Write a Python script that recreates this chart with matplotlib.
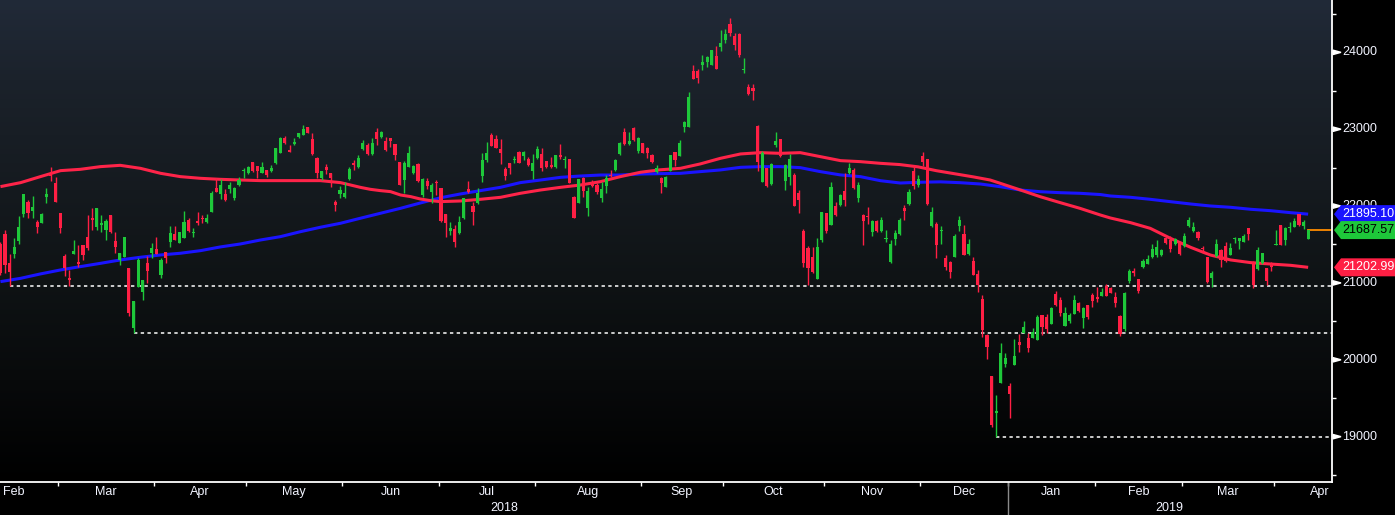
import numpy as np
import pandas as pd
import matplotlib
matplotlib.use("Agg")
import matplotlib.pyplot as plt
from matplotlib.patches import Polygon
from matplotlib import font_manager

# ---------------- data ----------------
start_date = "2018-02-09"
jp_holidays = ["2018-02-12", "2018-03-21", "2018-04-30", "2018-05-03", "2018-05-04",
               "2018-07-16", "2018-09-17", "2018-09-24", "2018-10-08", "2018-11-23",
               "2018-12-24", "2018-12-31", "2019-01-01", "2019-01-02", "2019-01-03",
               "2019-01-14", "2019-02-11", "2019-03-21", "2019-04-29", "2019-04-30"]

opens = [21506, 21636, 21255, 21376, 21550, 21897, 22057, 21940, 21797, 21784,
         22122, 22412, 22304, 21905, 21350, 21060, 21381, 21272, 21493, 21593,
         21840, 21723, 21750, 21688, 21884, 21550, 21298, 21342, 21190, 20418,
         20951, 20886, 21263, 21385, 21441, 21103, 21407, 21537, 21636, 21523,
         21580, 21819, 21645, 21810, 21845, 21792, 21927, 22230, 22152, 22157,
         22218, 22101, 22274, 22460, 22435, 22574, 22521, 22435, 22469, 22461,
         22556, 22695, 22881, 22730, 22807, 22894, 22925, 23024, 22868, 22621,
         22361, 22504, 22435, 22058, 22157, 22114, 22357, 22565, 22504, 22738,
         22795, 22678, 22968, 22894, 22851, 22881, 22808, 22578, 22339, 22513,
         22435, 22547, 22144, 22331, 22187, 22318, 22231, 21897, 21680, 21698,
         21646, 21841, 22218, 22001, 22036, 22391, 22599, 22925, 22868, 22738,
         22478, 22556, 22600, 22708, 22652, 22608, 22461, 22621, 22678, 22587,
         22534, 22504, 22665, 22599, 22608, 22123, 22044, 22361, 21979, 22318,
         22274, 22101, 22261, 22404, 22469, 22678, 22968, 22808, 23011, 22721,
         22825, 22751, 22665, 22448, 22361, 22253, 22461, 22708, 22652, 23033,
         23033, 23762, 23762, 23836, 23879, 23836, 23953, 24074, 24161, 24369,
         24213, 24239, 23775, 23545, 23532, 23042, 22318, 22491, 22288, 22795,
         22868, 22331, 22374, 22405, 22175, 21676, 21451, 21334, 21047, 21559,
         21914, 21754, 22001, 22014, 22201, 22426, 22470, 22101, 21884, 21862,
         21668, 21810, 21680, 21576, 21277, 21567, 21637, 21970, 22027, 22453,
         22270, 22650, 22610, 21741, 21767, 21670, 21320, 21277, 21342, 21741,
         21637, 21376, 21290, 21116, 20791, 20323, 19789, 19304, 19703, 19946,
         19659, 19933, 20236, 20353, 20279, 20279, 20258, 20583, 20553, 20466,
         20856, 20778, 20440, 20509, 20596, 20743, 20548, 20713, 20843, 20813,
         20830, 20960, 20939, 20821, 20570, 20400, 21030, 21160, 21047, 21203,
         21247, 21333, 21363, 21363, 21580, 21559, 21507, 21537, 21481, 21741,
         21680, 21667, 21459, 21342, 21060, 21351, 21429, 21481, 21363, 21567,
         21550, 21537, 21710, 21277, 21177, 21255, 21190, 21233, 21494, 21754,
         21559, 21710, 21732, 21897, 21741, 21572]
highs = [21530, 21688, 21376, 21580, 21870, 22160, 22079, 22131, 21819, 21914,
         22239, 22503, 22374, 21905, 21376, 21168, 21558, 21493, 21493, 21884,
         21970, 21975, 21884, 21827, 21890, 21658, 21385, 21593, 21190, 20765,
         21320, 21038, 21350, 21515, 21593, 21320, 21407, 21740, 21740, 21667,
         21935, 21840, 21710, 21922, 21884, 21897, 22200, 22360, 22347, 22218,
         22318, 22244, 22374, 22491, 22521, 22574, 22521, 22574, 22469, 22535,
         22760, 22894, 22912, 22795, 22881, 22955, 23055, 23024, 22946, 22643,
         22461, 22543, 22435, 22079, 22261, 22318, 22513, 22600, 22665, 22860,
         22816, 22881, 23011, 22981, 22894, 22881, 22808, 22578, 22591, 22781,
         22535, 22565, 22361, 22361, 22296, 22339, 22231, 21897, 21797, 21754,
         21871, 22110, 22326, 22057, 22231, 22695, 22838, 22955, 22925, 22868,
         22513, 22560, 22652, 22721, 22710, 22634, 22678, 22782, 22751, 22590,
         22634, 22665, 22807, 22652, 22608, 22131, 22348, 22374, 22244, 22339,
         22296, 22318, 22404, 22469, 22608, 22838, 23011, 22968, 23024, 22894,
         22825, 22764, 22678, 22535, 22383, 22391, 22665, 22708, 22860, 23111,
         23488, 23836, 23779, 23966, 23953, 24031, 24083, 24290, 24299, 24442,
         24256, 24247, 23922, 23588, 23588, 23055, 22721, 22491, 22556, 22968,
         22868, 22548, 22678, 22426, 22210, 21698, 21481, 21472, 21581, 21927,
         21914, 22318, 22058, 22157, 22435, 22565, 22491, 22318, 21897, 21984,
         21819, 21815, 21862, 21689, 21559, 21689, 21840, 22014, 22218, 22520,
         22400, 22698, 22612, 21984, 21797, 21741, 21363, 21290, 21637, 21871,
         21754, 21567, 21333, 21168, 20843, 20336, 19789, 19542, 20214, 20084,
         19694, 20266, 20336, 20509, 20344, 20409, 20583, 20583, 20596, 20691,
         20900, 20821, 20691, 20613, 20843, 20756, 20691, 20713, 20873, 20943,
         20930, 20986, 20952, 20887, 20580, 20880, 21177, 21190, 21047, 21307,
         21363, 21507, 21559, 21440, 21602, 21611, 21580, 21550, 21645, 21853,
         21797, 21680, 21481, 21342, 21160, 21567, 21437, 21537, 21515, 21602,
         21580, 21637, 21710, 21285, 21472, 21385, 21200, 21277, 21689, 21754,
         21723, 21788, 21840, 21897, 21819, 21689]
lows = [21100, 21125, 20955, 21320, 21506, 21862, 21840, 21840, 21645, 21775,
        22044, 22330, 22057, 21645, 21090, 20960, 21381, 21212, 21298, 21428,
        21688, 21688, 21667, 21558, 21645, 21385, 21233, 21342, 20574, 20347,
        20951, 20778, 21003, 21320, 21376, 21069, 21255, 21472, 21558, 21523,
        21580, 21667, 21593, 21753, 21775, 21775, 21927, 22183, 22087, 22066,
        22166, 22079, 22261, 22361, 22417, 22448, 22361, 22435, 22374, 22440,
        22548, 22690, 22808, 22708, 22795, 22890, 22925, 22955, 22665, 22361,
        22339, 22417, 22253, 21940, 22101, 22101, 22339, 22470, 22495, 22730,
        22665, 22665, 22795, 22890, 22720, 22773, 22600, 22274, 22175, 22505,
        22420, 22318, 22114, 22218, 22044, 22144, 21797, 21593, 21624, 21472,
        21637, 21835, 22175, 21754, 22030, 22318, 22578, 22775, 22750, 22547,
        22339, 22417, 22556, 22560, 22599, 22521, 22348, 22615, 22461, 22500,
        22500, 22495, 22608, 22491, 22296, 21850, 22044, 22123, 21871, 22253,
        22157, 22058, 22175, 22374, 22460, 22670, 22800, 22800, 22850, 22686,
        22686, 22621, 22565, 22435, 22175, 22244, 22450, 22526, 22645, 22968,
        23033, 23653, 23597, 23770, 23814, 23836, 23783, 24022, 24126, 24213,
        24031, 23935, 23736, 23445, 23380, 22461, 22318, 22250, 22274, 22773,
        22643, 22210, 22274, 22001, 21914, 21212, 20974, 21125, 21047, 21537,
        21646, 21754, 21871, 22001, 22001, 22420, 22218, 22058, 21494, 21767,
        21611, 21667, 21667, 21537, 21255, 21494, 21624, 21819, 22020, 22220,
        22250, 22515, 22016, 21723, 21320, 21507, 21168, 21060, 21333, 21680,
        21363, 21363, 21103, 20887, 20293, 20011, 19130, 18995, 19703, 19911,
        19239, 19933, 20106, 20344, 20106, 20279, 20258, 20323, 20344, 20466,
        20700, 20570, 20440, 20483, 20596, 20626, 20418, 20527, 20691, 20756,
        20830, 20830, 20865, 20683, 20315, 20380, 21004, 21090, 20865, 21200,
        21240, 21330, 21333, 21350, 21505, 21407, 21494, 21363, 21472, 21732,
        21667, 21559, 21394, 21004, 20952, 21342, 21212, 21277, 21363, 21515,
        21437, 21530, 21559, 20930, 21168, 21250, 20973, 21160, 21490, 21494,
        21494, 21667, 21723, 21741, 21697, 21572]
closes = [21125, 21229, 21146, 21463, 21723, 22157, 21905, 21983, 21732, 21897,
          22157, 22390, 22057, 21710, 21190, 21040, 21415, 21246, 21363, 21458,
          21815, 21970, 21775, 21810, 21658, 21472, 21385, 21593, 20604, 20765,
          21298, 21038, 21160, 21450, 21376, 21298, 21320, 21645, 21558, 21667,
          21797, 21680, 21660, 21775, 21830, 21840, 22166, 22183, 22274, 22079,
          22274, 22231, 22339, 22469, 22504, 22461, 22461, 22504, 22404, 22491,
          22760, 22881, 22816, 22708, 22838, 22946, 22998, 22955, 22678, 22435,
          22461, 22469, 22361, 22014, 22209, 22174, 22478, 22535, 22621, 22816,
          22678, 22816, 22868, 22968, 22730, 22851, 22665, 22274, 22565, 22695,
          22521, 22331, 22348, 22261, 22274, 22300, 21810, 21784, 21719, 21537,
          21797, 22101, 22188, 21927, 22175, 22599, 22695, 22782, 22760, 22695,
          22391, 22491, 22612, 22565, 22708, 22534, 22565, 22738, 22491, 22513,
          22504, 22665, 22634, 22608, 22296, 21850, 22348, 22201, 22201, 22261,
          22188, 22218, 22361, 22391, 22599, 22816, 22808, 22851, 22860, 22881,
          22695, 22686, 22578, 22491, 22296, 22383, 22665, 22600, 22825, 23098,
          23423, 23653, 23662, 23879, 23944, 24031, 23783, 24126, 24239, 24256,
          24096, 23966, 23783, 23458, 23502, 22578, 22687, 22262, 22548, 22851,
          22652, 22535, 22608, 22001, 22079, 21264, 21190, 21147, 21472, 21927,
          21680, 22253, 21884, 22144, 22079, 22491, 22231, 22275, 21810, 21854,
          21810, 21680, 21819, 21581, 21507, 21654, 21819, 21940, 22187, 22262,
          22351, 22574, 22027, 21927, 21494, 21690, 21203, 21147, 21611, 21819,
          21363, 21507, 21103, 20973, 20388, 20162, 19152, 19339, 20084, 20019,
          19555, 20050, 20193, 20431, 20149, 20366, 20561, 20431, 20396, 20670,
          20713, 20605, 20605, 20583, 20778, 20639, 20670, 20553, 20769, 20787,
          20886, 20830, 20873, 20743, 20333, 20864, 21155, 21134, 20900, 21290,
          21307, 21437, 21463, 21428, 21515, 21437, 21567, 21377, 21611, 21819,
          21723, 21580, 21437, 21017, 21125, 21507, 21299, 21290, 21450, 21580,
          21580, 21611, 21637, 20973, 21429, 21385, 21030, 21203, 21507, 21494,
          21710, 21732, 21810, 21754, 21797, 21687.57]

# 100-day moving average (red), read at sample positions (trading-day index)
ma100_idx = [0, 4.4, 8.7, 13.1, 17.4, 21.8, 26.1, 30.5, 34.9, 39.2, 43.6, 47.9, 52.3,
             56.7, 65.4, 69.7, 71.9, 74.1, 76.3, 78.4, 80.6, 82.8, 85.0, 87.2, 89.4,
             91.5, 93.7, 95.9, 100.2, 104.6, 109.0, 113.3, 117.7, 122.1, 126.4, 130.8,
             135.1, 139.5, 143.8, 148.2, 152.5, 156.9, 161.3, 165.6, 170.0, 174.3,
             178.7, 183.1, 187.4, 191.8, 196, 200, 204, 208, 212, 215.7, 217.9, 222.3,
             226.6, 231.0, 235.3, 239.7, 241.9, 246.3, 250.6, 255.0, 259.4, 263.7,
             268.1, 272.5, 276.8, 281.2, 285]
ma100_val = [22253, 22305, 22383, 22461, 22478, 22513, 22530, 22491, 22426, 22383,
             22361, 22348, 22339, 22331, 22331, 22331, 22318, 22305, 22274, 22244,
             22218, 22201, 22188, 22144, 22123, 22092, 22071, 22058, 22066, 22088,
             22114, 22166, 22209, 22244, 22274, 22318, 22383, 22440, 22472, 22491,
             22548, 22621, 22678, 22695, 22686, 22695, 22643, 22591, 22578, 22556,
             22540, 22510, 22460, 22420, 22380, 22339, 22296, 22209, 22122, 22044,
             21970, 21884, 21845, 21784, 21710, 21580, 21463, 21363, 21299, 21264,
             21246, 21229, 21202.99]
# 200-day moving average (blue)
ma200_idx = [0, 4.4, 8.7, 13.1, 17.4, 21.8, 26.1, 30.5, 34.9, 39.2, 43.6, 47.9, 52.3,
             56.7, 61.0, 65.4, 69.7, 74.1, 78.4, 82.8, 87.2, 91.5, 95.9, 100.2, 104.6,
             109.0, 113.3, 117.7, 122.1, 126.4, 130.8, 135.1, 139.5, 143.8, 148.2,
             152.5, 156.9, 161.3, 165.6, 170.0, 174.3, 178.7, 183.1, 187.4, 191.8,
             196.1, 200.5, 204.9, 209.2, 213.6, 217.9, 222.3, 226.6, 231.0, 235.3,
             239.7, 241.9, 246.3, 250.6, 255.0, 259.4, 263.7, 268.1, 272.5, 276.8,
             281.2, 285]
ma200_val = [21017, 21060, 21117, 21169, 21212, 21255, 21299, 21334, 21364, 21386,
             21420, 21468, 21507, 21559, 21602, 21667, 21724, 21776, 21841, 21906,
             21971, 22040, 22108, 22157, 22201, 22244, 22305, 22339, 22374, 22391,
             22404, 22404, 22417, 22422, 22426, 22448, 22470, 22504, 22513, 22513,
             22500, 22448, 22405, 22383, 22330, 22300, 22310, 22315, 22304, 22287,
             22252, 22209, 22187, 22174, 22166, 22150, 22131, 22114, 22088, 22057,
             22027, 22001, 21984, 21958, 21940, 21914, 21895.10]

support_idx = [2, 29, 217]          # candles whose lows are marked by dotted lines
ytick_major = [19000, 20000, 21000, 22000, 23000, 24000]
ytick_minor = [18500, 19500, 20500, 21500, 22500, 23500, 24500]
tag_values = [21895.10, 21687.57, 21202.99]
tag_texts = ["21895.10", "21687.57", "21202.99"]

# ---------------- style ----------------
avail = {f.name for f in font_manager.fontManager.ttflist}
FONT = "Liberation Sans Narrow" if "Liberation Sans Narrow" in avail else "Liberation Sans"
plt.rcParams['font.family'] = [FONT, 'DejaVu Sans']
FS = 10 if FONT == "Liberation Sans Narrow" else 9

GREEN = "#1ec83a"
RED = "#ff1f44"
MARED = "#ff2449"
BLUE = "#1a14ff"
TXT = "#f2f4ff"

W_PX, H_PX = 1395, 515
AX_W, AX_H = 1332, 482
fig = plt.figure(figsize=(W_PX / 100, H_PX / 100), dpi=100, facecolor="black")
ax = fig.add_axes([0, (H_PX - AX_H) / H_PX, AX_W / W_PX, AX_H / H_PX])
ax.set_facecolor("black")

# trading calendar
cal = pd.bdate_range("2018-02-01", "2019-04-30")
cal = cal[~cal.isin(pd.to_datetime(jp_holidays))]
base = int(np.where(cal == pd.Timestamp(start_date))[0][0])
cal_idx = np.arange(len(cal)) - base

n = len(closes)
x = np.arange(n)
XMIN, XMAX = -0.1, 290.2
YMIN, YMAX = 18410, 24681
ax.set_xlim(XMIN, XMAX)
ax.set_ylim(YMIN, YMAX)

# background gradient
stops_y = [0, 80, 190, 280, 380, 482]
stops_c = [(33, 42, 56), (27, 34, 43), (21, 26, 31), (15, 19, 21), (8, 10, 11), (0, 0, 0)]
rows = np.arange(AX_H)
grad = np.zeros((AX_H, 1, 3))
for k in range(3):
    grad[:, 0, k] = np.interp(rows, stops_y, [c[k] for c in stops_c]) / 255.0
ax.imshow(grad, extent=[XMIN, XMAX, YMIN, YMAX], aspect="auto", origin="upper",
          zorder=0, interpolation="bilinear")

# moving averages
ax.plot(ma200_idx, ma200_val, color=BLUE, lw=2.2, zorder=2, solid_capstyle="butt")
ax.plot(ma100_idx, ma100_val, color=MARED, lw=2.2, zorder=2, solid_capstyle="butt")

# candles
o = np.array(opens, float); h = np.array(highs, float)
l = np.array(lows, float); c = np.array(closes, float)
up = c >= o
cols = np.where(up, GREEN, RED)
ax.vlines(x, l, h, colors=cols, lw=1.0, zorder=3)
body_lo = np.minimum(o, c)
body_h = np.maximum(np.abs(c - o), 14)
ax.bar(x, body_h, bottom=body_lo, width=0.68, color=cols, linewidth=0, zorder=4)

# support dotted lines
for i in support_idx:
    ax.plot([i, XMAX], [lows[i], lows[i]], color="white", lw=1.1,
            linestyle=(0, (2.2, 2.2)), zorder=2.5)

# last price line
ax.plot([n - 1, XMAX], [closes[-1], closes[-1]], color="#ff8c00", lw=1.3, zorder=2.5)

# spines
for s in ["top", "left"]:
    ax.spines[s].set_visible(False)
for s in ["right", "bottom"]:
    ax.spines[s].set_color("white")
    ax.spines[s].set_linewidth(1.3)

# x ticks (month boundaries) and labels (month centres)
months = pd.PeriodIndex(cal, freq="M")
uniq = months.unique()
tick_pos, lab_pos, lab_txt = [], [], []
for m in uniq:
    sel = cal_idx[months == m]
    tick_pos.append(sel[0] - 0.5)
    lab_pos.append(sel.mean())
    lab_txt.append(m.strftime("%b"))
ax.set_xticks([t for t in tick_pos if XMIN < t < XMAX])
ax.set_xticklabels([])
ax.tick_params(axis="x", direction="out", length=3, width=1, color="white")
xf = ax.get_xaxis_transform()
for p, t in zip(lab_pos, lab_txt):
    if XMIN <= p <= XMAX + 0.5:
        ax.text(p, -10 / AX_H, t, transform=xf, ha="center", va="center",
                color=TXT, fontsize=FS, clip_on=False)
jan_tick = cal_idx[cal >= pd.Timestamp("2019-01-01")][0] - 0.5
ax.text((XMIN + jan_tick) / 2, -26 / AX_H, "2018", transform=xf, ha="center",
        va="center", color=TXT, fontsize=FS, clip_on=False)
ax.text((jan_tick + XMAX) / 2, -26 / AX_H, "2019", transform=xf, ha="center",
        va="center", color=TXT, fontsize=FS, clip_on=False)
ax.plot([jan_tick, jan_tick], [0, -33 / AX_H], transform=xf, color="#8a8a8a",
        lw=1, clip_on=False)

# y axis on right
ax.yaxis.tick_right()
ax.set_yticks(ytick_major)
ax.set_yticks(ytick_minor, minor=True)
ax.set_yticklabels([])
ax.tick_params(axis="y", which="major", length=0)
ax.tick_params(axis="y", which="minor", direction="out", length=3, width=1, color="white")
yf = ax.get_yaxis_transform()
dpp = (YMAX - YMIN) / AX_H  # data units per pixel
for v in ytick_major:
    tri = Polygon([(1.0 + 1 / AX_W, v + 2.2 * dpp), (1.0 + 1 / AX_W, v - 2.2 * dpp),
                   (1.0 + 9 / AX_W, v)], closed=True, transform=yf, color="white",
                   clip_on=False, zorder=5)
    ax.add_patch(tri)
    ax.text(1.0 + 10 / AX_W, v, f"{v}", transform=yf, ha="left", va="center",
            color=TXT, fontsize=FS, clip_on=False, zorder=5)

# price tags
tag_face = [BLUE, GREEN, RED]
tag_tc = ["white", "black", "white"]
for v, t, fc, tc in zip(tag_values, tag_texts, tag_face, tag_tc):
    hh = 9 * dpp
    x0 = 1.0 + 2 / AX_W
    x1 = 1.0 + 9 / AX_W
    x2 = W_PX / AX_W + 0.01
    poly = Polygon([(x0, v), (x1, v + hh), (x2, v + hh), (x2, v - hh), (x1, v - hh)],
                   closed=True, transform=yf, facecolor=fc, edgecolor="none",
                   clip_on=False, zorder=10)
    ax.add_patch(poly)
    ax.text(1.0 + 10 / AX_W, v, t, transform=yf, ha="left", va="center",
            color=tc, fontsize=FS, clip_on=False, zorder=11)

fig.savefig("out.png", dpi=100, facecolor="black")
